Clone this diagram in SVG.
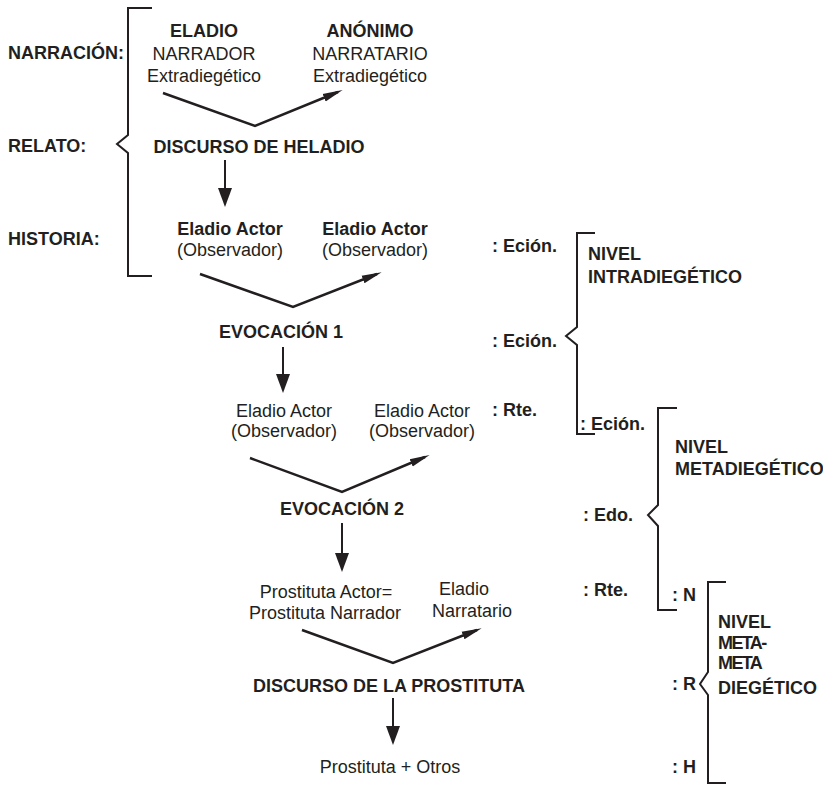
<svg xmlns="http://www.w3.org/2000/svg" width="823" height="785" viewBox="0 0 823 785">
  <style>
    text { font-family: "Liberation Sans", Arial, Helvetica, sans-serif; font-size: 18px; fill: #231f20; }
    .b { font-weight: bold; }
    .m { text-anchor: middle; }
    .cond { letter-spacing: -1.6px; }
    .brace { fill: none; stroke: #231f20; stroke-width: 2; stroke-linejoin: miter; }
    .vee { fill: none; stroke: #231f20; stroke-width: 2.5; marker-end: url(#tip); }
    .down { fill: none; stroke: #231f20; stroke-width: 2; marker-end: url(#tipBig); }
  </style>
  <defs>
    <marker id="tip" markerUnits="userSpaceOnUse" markerWidth="21" markerHeight="10" refX="15" refY="5" orient="auto">
      <path d="M0,1 L20,5 L0,9 Z" fill="#231f20"/>
    </marker>
    <marker id="tipBig" markerUnits="userSpaceOnUse" markerWidth="20" markerHeight="15" refX="15" refY="7" orient="auto">
      <path d="M0,0 L19,7 L0,14 Z" fill="#231f20"/>
    </marker>
  </defs>

  <rect width="823" height="785" fill="#ffffff"/>

  <!-- level labels on the left -->
  <g id="labels-left">
    <text class="b" x="8" y="59">NARRACIÓN:</text>
    <text class="b" x="8" y="152">RELATO:</text>
    <text class="b" x="8" y="245">HISTORIA:</text>
  </g>

  <!-- braces -->
  <g id="braces">
    <path class="brace" d="M152,8 H128 V135 L117,144 L128,153 V276 H152"/>
    <path class="brace" d="M595,233 H577 V327 L566,336 L577,345 V434 H595"/>
    <path class="brace" d="M677,408 H658 V505 L648,515 L658,526 V610 H677"/>
    <path class="brace" d="M726,582 H708 V672 L700,684 L708,695 V783 H726"/>
  </g>

  <g id="narrador">
    <text class="b m" x="204" y="37">ELADIO</text>
    <text class="m" x="204" y="60">NARRADOR</text>
    <text class="m" x="204" y="82">Extradiegético</text>
  </g>
  <g id="narratario">
    <text class="b m" x="370" y="37">ANÓNIMO</text>
    <text class="m" x="370" y="60">NARRATARIO</text>
    <text class="m" x="370" y="82">Extradiegético</text>
  </g>
  <g id="discurso-heladio">
    <text class="b m" x="259" y="153">DISCURSO DE HELADIO</text>
  </g>
  <g id="actor-1a">
    <text class="b m" x="230" y="235">Eladio Actor</text>
    <text class="m" x="230" y="256">(Observador)</text>
  </g>
  <g id="actor-1b">
    <text class="b m" x="375" y="235">Eladio Actor</text>
    <text class="m" x="375" y="256">(Observador)</text>
  </g>
  <g id="evocacion-1">
    <text class="b m" x="281" y="338">EVOCACIÓN 1</text>
  </g>
  <g id="actor-2a">
    <text class="m" x="284" y="417">Eladio Actor</text>
    <text class="m" x="284" y="437">(Observador)</text>
  </g>
  <g id="actor-2b">
    <text class="m" x="422" y="417">Eladio Actor</text>
    <text class="m" x="422" y="437">(Observador)</text>
  </g>
  <g id="evocacion-2">
    <text class="b m" x="342" y="515">EVOCACIÓN 2</text>
  </g>
  <g id="prostituta-narrador">
    <text class="m" x="326" y="598">Prostituta Actor=</text>
    <text class="m" x="325" y="619">Prostituta Narrador</text>
  </g>
  <g id="eladio-narratario">
    <text class="m" x="464" y="595">Eladio</text>
    <text class="m" x="472" y="617">Narratario</text>
  </g>
  <g id="discurso-prostituta">
    <text class="b m" x="389" y="692">DISCURSO DE LA PROSTITUTA</text>
  </g>
  <g id="prostituta-otros">
    <text class="m" x="390" y="773">Prostituta + Otros</text>
  </g>

  <!-- right-hand column of abbreviations -->
  <g id="abbr">
    <text class="b" x="492" y="252">: Eción.</text>
    <text class="b" x="492" y="347">: Eción.</text>
    <text class="b" x="492" y="416">: Rte.</text>
    <text class="b" x="580" y="430">: Eción.</text>
    <text class="b" x="583" y="521">: Edo.</text>
    <text class="b" x="583" y="596">: Rte.</text>
    <text class="b" x="672" y="601">: N</text>
    <text class="b" x="672" y="690">: R</text>
    <text class="b" x="672" y="773">: H</text>
  </g>

  <g id="nivel-intra">
    <text class="b" x="588" y="260">NIVEL</text>
    <text class="b" x="588" y="283">INTRADIEGÉTICO</text>
  </g>
  <g id="nivel-meta">
    <text class="b" x="675" y="453">NIVEL</text>
    <text class="b" x="675" y="475">METADIEGÉTICO</text>
  </g>
  <g id="nivel-metameta">
    <text class="b" x="718" y="628">NIVEL</text>
    <text class="b cond" x="718" y="649">META-</text>
    <text class="b cond" x="718" y="669">META</text>
    <text class="b" x="718" y="694">DIEGÉTICO</text>
  </g>

  <!-- connectors -->
  <g id="connectors">
    <path class="vee" d="M163,93 L255,126 L338,92"/>
    <path class="down" d="M225,160 V203"/>
    <path class="vee" d="M200,274 L293,307 L377,274"/>
    <path class="down" d="M283,347 V389"/>
    <path class="vee" d="M250,458 L342,492 L425,457"/>
    <path class="down" d="M342,523 V568"/>
    <path class="vee" d="M302,630 L393,663 L477,630"/>
    <path class="down" d="M393,698 V741"/>
  </g>
</svg>
